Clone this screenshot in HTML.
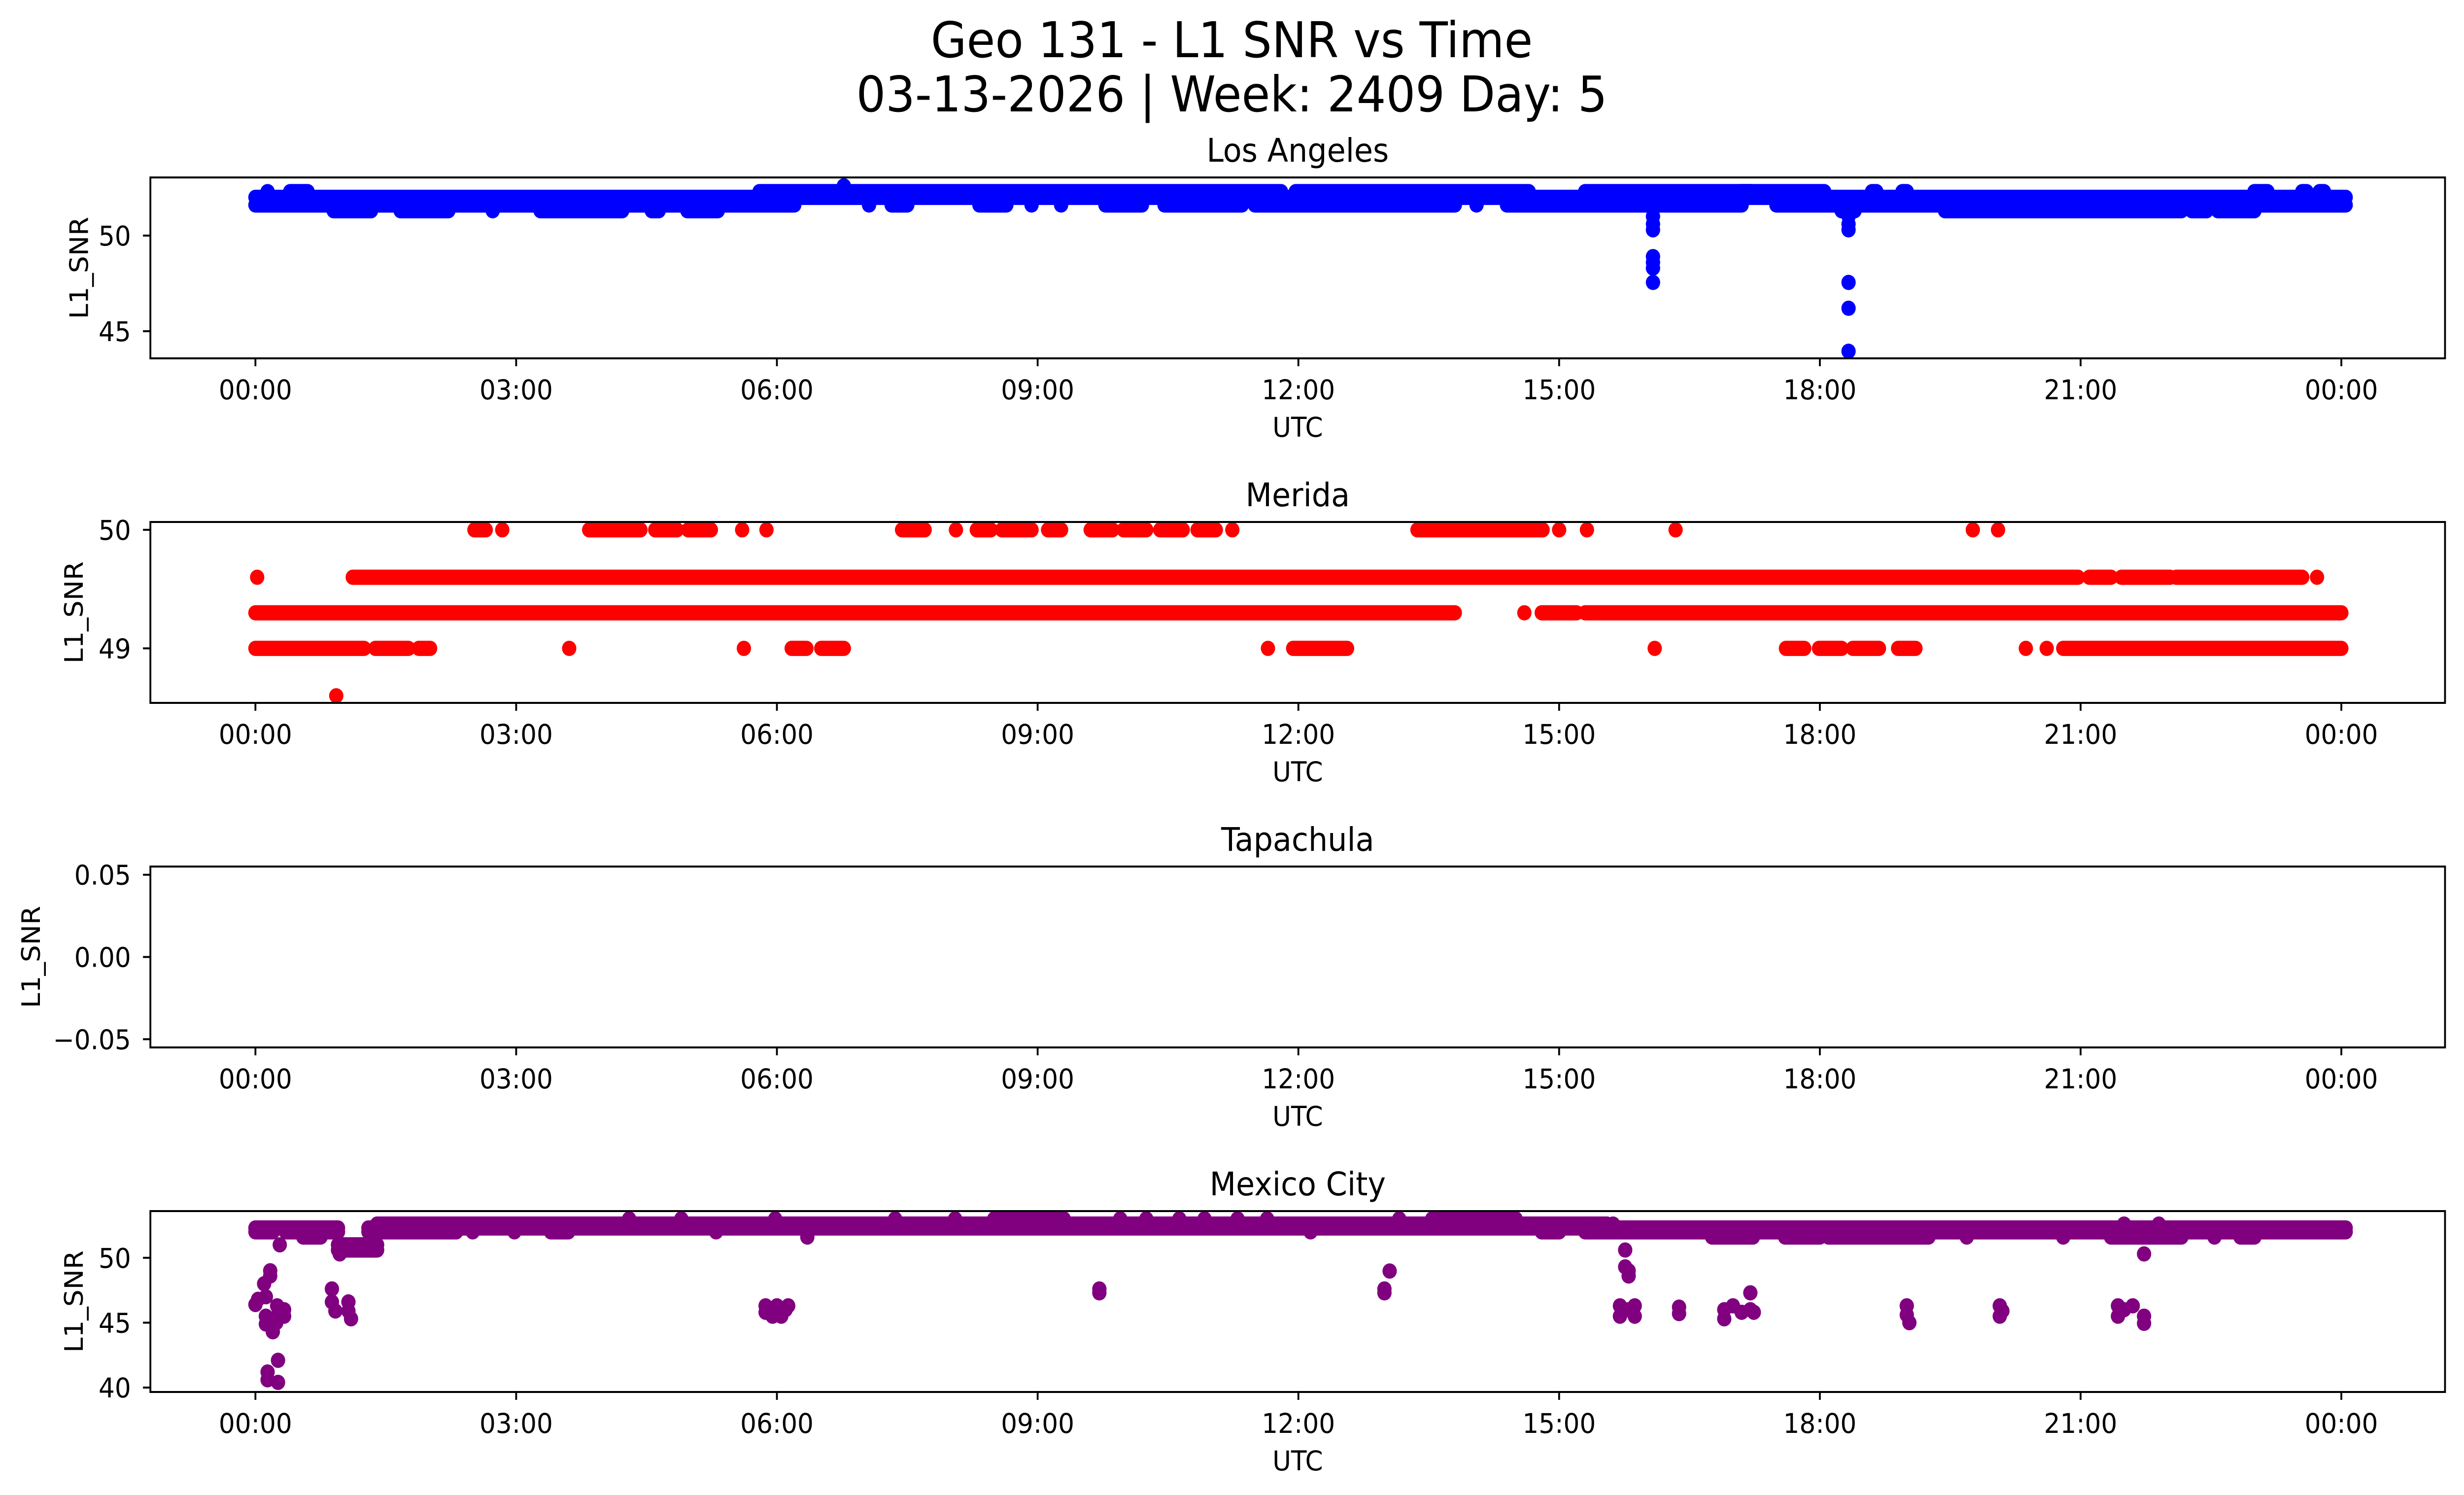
<!DOCTYPE html>
<html><head><meta charset="utf-8">
<style>
html,body{margin:0;padding:0;background:#fff;overflow:hidden;width:100vw;height:100vh;}
svg{display:block;width:100vw;height:100vh;font-family:"DejaVu Sans","Liberation Sans",sans-serif;}
</style></head>
<body>
<svg id="fig" viewBox="0 0 5325 3033" preserveAspectRatio="none" xmlns="http://www.w3.org/2000/svg">
<rect width="5325" height="3033" fill="#fff"/>
<text x="2662" y="116" font-size="100" text-anchor="middle">Geo 131 - L1 SNR vs Time</text>
<text x="2662" y="226" font-size="100" text-anchor="middle">03-13-2026 | Week: 2409 Day: 5</text>
</svg>
<script>
// x tick labels (hours)
const xTickHours = [0,3,6,9,12,15,18,21,24];
const xTickLabels = ["00:00","03:00","06:00","09:00","12:00","15:00","18:00","21:00","00:00"];
const stations = ["Los Angeles","Merida","Tapachula","Mexico City"];
const colors = ["#0000ff","#ff0000","#ff0000","#800080"];
const yMins = [43.58, 48.54, -0.055, 39.66];
const yMaxs = [53.04, 50.066, 0.055, 53.6];
const yTicks0 = [45,50];
const yTicks1 = [49,50];
const yTicks2 = [-0.05,0,0.05];
const yTicks3 = [40,45,50];
const yTickLabels2 = ["\u22120.05","0.00","0.05"];

// Los Angeles: runs [startHour, endHour, SNR]
const laRuns = [
 [0.0,24.05,52.0],
 [0.14,0.14,52.3],[0.4,0.6,52.3],[5.8,11.8,52.3],[11.97,14.65,52.3],[15.3,17.2,52.3],[17.1,18.05,52.3],[18.6,18.65,52.3],[18.95,19.0,52.3],[23.0,23.15,52.3],[23.55,23.6,52.3],[23.75,23.8,52.3],
 [6.77,6.77,52.6],
 [0.0,6.2,51.6],[7.06,7.06,51.6],[7.32,7.5,51.6],[8.33,8.64,51.6],[8.93,8.93,51.6],[9.27,9.27,51.6],[9.78,10.2,51.6],[10.46,11.35,51.6],[11.5,13.8,51.6],[14.05,14.05,51.6],[14.4,17.1,51.6],[17.5,24.05,51.6],
 [0.9,1.33,51.3],[1.67,2.22,51.3],[2.73,2.73,51.3],[3.28,4.22,51.3],[4.56,4.64,51.3],[4.97,5.32,51.3],[18.25,18.4,51.3],[19.44,22.16,51.3],[22.28,22.45,51.3],[22.58,23.0,51.3]
];
const laPoints = [
 [16.08,51.0],[16.08,50.6],[16.08,50.3],[16.08,48.9],[16.08,48.6],[16.08,48.3],[16.08,47.55],
 [18.33,51.0],[18.33,50.6],[18.33,50.3],[18.33,47.55],[18.33,46.2],[18.33,43.95]
];

// Merida runs
const meRuns = [
 [0.0,1.25,49.0],[1.38,1.76,49.0],[1.88,2.01,49.0],[3.61,3.61,49.0],[5.62,5.62,49.0],[6.17,6.34,49.0],[6.51,6.77,49.0],[11.65,11.65,49.0],[11.94,12.56,49.0],[16.1,16.1,49.0],[17.61,17.82,49.0],[17.99,18.25,49.0],[18.38,18.68,49.0],[18.9,19.1,49.0],[20.37,20.37,49.0],[20.61,20.61,49.0],[20.8,24.0,49.0],
 [0.0,13.8,49.3],[14.6,14.6,49.3],[14.8,15.2,49.3],[15.3,24.0,49.3],
 [0.02,0.02,49.6],[1.12,20.97,49.6],[21.1,21.35,49.6],[21.47,22.03,49.6],[22.1,23.55,49.6],[23.72,23.72,49.6],
 [2.52,2.65,50.0],[2.84,2.84,50.0],[3.84,4.43,50.0],[4.6,4.85,50.0],[4.98,5.24,50.0],[5.6,5.6,50.0],[5.88,5.88,50.0],[7.44,7.7,50.0],[8.06,8.06,50.0],[8.3,8.46,50.0],[8.59,8.93,50.0],[9.12,9.27,50.0],[9.61,9.86,50.0],[9.99,10.25,50.0],[10.41,10.67,50.0],[10.84,11.05,50.0],[11.24,11.24,50.0],[13.37,14.81,50.0],[15.0,15.0,50.0],[15.32,15.32,50.0],[16.34,16.34,50.0],[19.76,19.76,50.0],[20.05,20.05,50.0],
 [0.93,0.93,48.6]
];

// Mexico City runs and outlier points
const mxRuns = [
 [0.0,0.95,52.3],[1.3,24.05,52.3],
 [1.4,15.55,52.6],[15.36,15.36,52.6],[15.62,15.62,52.6],[21.5,21.5,52.6],[21.9,21.9,52.6],
 [4.3,4.3,53.0],[4.9,4.9,53.0],[5.98,5.98,53.0],[7.36,7.36,53.0],[8.05,8.05,53.0],[8.5,9.3,53.0],[9.95,9.95,53.0],[10.25,10.25,53.0],[10.63,10.63,53.0],[10.92,10.92,53.0],[11.3,11.3,53.0],[11.64,11.64,53.0],[13.16,13.16,53.0],[13.54,14.5,53.0],
 [0.0,0.2,52.0],[0.35,0.95,52.0],[1.3,2.31,52.0],[2.5,2.5,52.0],[2.98,2.98,52.0],[3.4,3.6,52.0],[5.3,5.3,52.0],[12.14,12.14,52.0],[14.8,15.0,52.0],[15.3,24.05,52.0],
 [0.55,0.75,51.6],[6.35,6.35,51.6],[16.76,17.23,51.6],[17.6,18.0,51.6],[18.1,19.25,51.6],[19.69,19.69,51.6],[20.8,20.8,51.6],[21.35,22.16,51.6],[22.54,22.54,51.6],[22.84,23.0,51.6],
 [0.95,1.4,51.0],[0.95,1.4,50.6]
];
const mxPoints = [
 [0.28,51.0],[0.97,50.3],
 [0.0,46.4],[0.03,46.8],[0.1,48.0],[0.12,47.0],[0.12,45.5],[0.12,44.9],[0.17,49.0],[0.17,48.6],[0.2,44.3],[0.24,45.0],[0.25,46.3],[0.25,45.5],[0.33,46.0],[0.33,45.5],
 [0.14,41.2],[0.14,40.6],[0.26,42.1],[0.26,40.4],
 [0.88,47.6],[0.88,46.6],[0.92,45.9],[1.07,46.6],[1.07,45.9],[1.1,45.3],
 [5.87,46.3],[5.87,45.8],[5.95,45.5],[6.0,46.3],[6.05,45.5],[6.1,46.0],[6.13,46.3],
 [9.71,47.6],[9.71,47.3],
 [12.99,47.6],[12.99,47.3],[13.05,48.98],
 [15.76,50.6],[15.76,49.3],[15.8,49.0],[15.8,48.6],[15.7,46.3],[15.7,45.5],[15.8,46.0],[15.87,46.3],[15.87,45.5],
 [16.38,46.2],[16.38,45.7],
 [16.9,46.0],[16.9,45.3],[17.0,46.3],[17.1,45.8],[17.2,46.0],[17.2,47.3],[17.24,45.8],
 [19.0,46.3],[19.0,45.6],[19.03,45.0],
 [20.07,46.3],[20.07,45.5],[20.1,45.9],
 [21.43,46.3],[21.43,45.5],[21.5,46.0],[21.6,46.3],[21.73,45.5],[21.73,44.95],[21.73,50.3]
];

const allRuns = [laRuns, meRuns, [], mxRuns];
const allPoints = [laPoints, [], [], mxPoints];
const allYTicks = [yTicks0, yTicks1, yTicks2, yTicks3];

const NS = "http://www.w3.org/2000/svg";
const svg = document.getElementById('fig');
const AX_L = 325, AX_R = 5284, AX_H = 367, TOPS = [360,1059,1758,2457];
const R = 15.5;
function xScale(h){ return 552 + h*187.83; }
function mk(tag, attrs, parent){ const e=document.createElementNS(NS,tag); for(const k in attrs) e.setAttribute(k,attrs[k]); (parent||svg).appendChild(e); return e; }
function fmtTick(i,v){ if(i===2) return yTickLabels2[yTicks2.indexOf(v)]; return String(v); }
const ylabelX = [171,160,67,160];

for(let i=0;i<4;i++){
  const top = TOPS[i], bot = top+AX_H;
  const yScale = v => top + (yMaxs[i]-v)/(yMaxs[i]-yMins[i])*AX_H;
  const g = mk('g',{});
  
  
  const cid = 'clip'+i;
  const cp = mk('clipPath',{id:cid},g);
  mk('rect',{x:AX_L,y:top,width:AX_R-AX_L,height:AX_H},cp);
  const marks = mk('g',{'clip-path':'url(#'+cid+')'},g);
  
  
  for(const r of allRuns[i]){
    let el;
    if(r[0]===r[1]){
      el = mk('circle',{cx:xScale(r[0]),cy:yScale(r[2]),r:R,fill:colors[i]},marks);
    } else {
      el = mk('line',{x1:xScale(r[0]),x2:xScale(r[1]),y1:yScale(r[2]),y2:yScale(r[2]),stroke:colors[i],'stroke-width':2*R,'stroke-linecap':'round'},marks);
    }
    
    
  }
  for(const p of allPoints[i]){
    const c = mk('circle',{cx:xScale(p[0]),cy:yScale(p[1]),r:R,fill:colors[i]},marks);
    
    
  }
  const fr = mk('rect',{x:AX_L,y:top,width:AX_R-AX_L,height:AX_H,fill:'none',stroke:'#000','stroke-width':4},g);
  
  
  xTickHours.forEach((h,k)=>{
    const x = xScale(h);
    mk('line',{x1:x,x2:x,y1:bot,y2:bot+16,stroke:'#000','stroke-width':4},g);
    const t = mk('text',{x:x,y:bot+83,'font-size':55,'text-anchor':'middle'},g);
    t.textContent = xTickLabels[k];
    
    
  });
  allYTicks[i].forEach(v=>{
    const y = yScale(v);
    mk('line',{x1:AX_L-16,x2:AX_L,y1:y,y2:y,stroke:'#000','stroke-width':4},g);
    const t = mk('text',{x:283,y:y+20,'font-size':55,'text-anchor':'end'},g);
    t.textContent = fmtTick(i,v);
    
    
  });
  const xl = mk('text',{x:(AX_L+AX_R)/2,y:bot+159,'font-size':55,'text-anchor':'middle'},g);
  xl.textContent = 'UTC';
  
  
  const cy = top+AX_H/2;
  const yl = mk('text',{x:ylabelX[i],y:cy,'font-size':55,'text-anchor':'middle','dominant-baseline':'central',transform:'rotate(-90 '+ylabelX[i]+' '+cy+')'},g);
  yl.textContent = 'L1_SNR';
  
  
  const tt = mk('text',{x:(AX_L+AX_R)/2,y:top-32,'font-size':66,'text-anchor':'middle'},g);
  tt.textContent = stations[i];
  
  
}
</script>
</body></html>
